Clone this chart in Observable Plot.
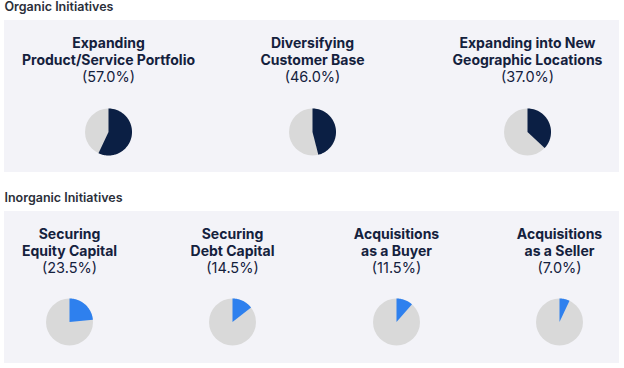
<!DOCTYPE html>
<html>
<head>
<meta charset="utf-8">
<script src="https://cdn.jsdelivr.net/npm/d3@7"></script>
<script src="https://cdn.jsdelivr.net/npm/@observablehq/plot@0.6"></script>
<style>
  html, body { margin: 0; padding: 0; background: #ffffff; }
  #chart svg { display: block; }
</style>
</head>
<body>
<div id="chart"></div>
<script>
// ---- data ----
const groupNames = ["Organic Initiatives", "Inorganic Initiatives"];
const organicLine1 = ["Expanding", "Diversifying", "Expanding into New"];
const organicLine2 = ["Product/Service Portfolio", "Customer Base", "Geographic Locations"];
const organicValues = [57.0, 46.0, 37.0];
const inorganicLine1 = ["Securing", "Securing", "Acquisitions", "Acquisitions"];
const inorganicLine2 = ["Equity Capital", "Debt Capital", "as a Buyer", "as a Seller"];
const inorganicValues = [23.5, 14.5, 11.5, 7.0];

// ---- layout ----
const W = 624, H = 368;
const font = "Inter, 'Noto Sans', sans-serif";
const layout = [
  {top: 0, panelTop: 20, panelBottom: 172, centers: [108, 312, 527], l1: 43, l2: 60, l3: 77, pieY: 131.5, color: "#0b1f44"},
  {top: 191, panelTop: 211, panelBottom: 363, centers: [69, 232, 396, 559], l1: 234, l2: 251, l3: 268, pieY: 321.5, color: "#2e80ee"}
];
const R = 23.5;
const groups = [
  {name: groupNames[0], line1: organicLine1, line2: organicLine2, values: organicValues, ...layout[0]},
  {name: groupNames[1], line1: inorganicLine1, line2: inorganicLine2, values: inorganicValues, ...layout[1]}
];

const items = groups.flatMap((g, gi) => g.values.map((v, i) => ({
  group: gi, value: v, line1: g.line1[i], line2: g.line2[i],
  cx: g.centers[i], l1: g.l1, l2: g.l2, l3: g.l3, cy: g.pieY, color: g.color
})));

// wedge polygons computed from values (clockwise from 12 o'clock)
const wedgePts = items.flatMap((d, k) => {
  const a1 = 2 * Math.PI * d.value / 100;
  const n = Math.max(2, Math.ceil(a1 / 0.03));
  const pts = [{k, x: d.cx, y: d.cy, color: d.color}];
  for (let j = 0; j <= n; j++) {
    const a = a1 * j / n;
    pts.push({k, x: d.cx + R * Math.sin(a), y: d.cy - R * Math.cos(a), color: d.color});
  }
  pts.push({k, x: d.cx, y: d.cy, color: d.color});
  return pts;
});

const chart = Plot.plot({
  width: W, height: H,
  margin: 0,
  x: {domain: [0, W], range: [0, W], axis: null},
  y: {domain: [0, H], range: [0, H], axis: null},
  style: {fontFamily: font, background: "#ffffff"},
  marks: [
    Plot.rect(groups, {x1: 4, x2: 619, y1: "panelTop", y2: "panelBottom", fill: "#f3f3f8"}),
    Plot.text(groups, {x: 4, y: d => d.top + 6, text: "name", textAnchor: "start", fontSize: 12.5, fontWeight: 600, fill: "#2b2f3a"}),
    Plot.text(items, {x: "cx", y: "l1", text: "line1", fontSize: 14, fontWeight: 700, fill: "#14213d"}),
    Plot.text(items, {x: "cx", y: "l2", text: "line2", fontSize: 14, fontWeight: 700, fill: "#14213d"}),
    Plot.text(items, {x: "cx", y: "l3", text: d => `(${d.value.toFixed(1)}%)`, fontSize: 14.5, fontWeight: 400, fill: "#14213d"}),
    Plot.dot(items, {x: "cx", y: "cy", r: R, fill: "#d9d9d9", stroke: "none"}),
    Plot.line(wedgePts, {x: "x", y: "y", z: "k", fill: "color", stroke: "none", curve: "linear"})
  ]
});
document.getElementById("chart").append(chart);
</script>
</body>
</html>
